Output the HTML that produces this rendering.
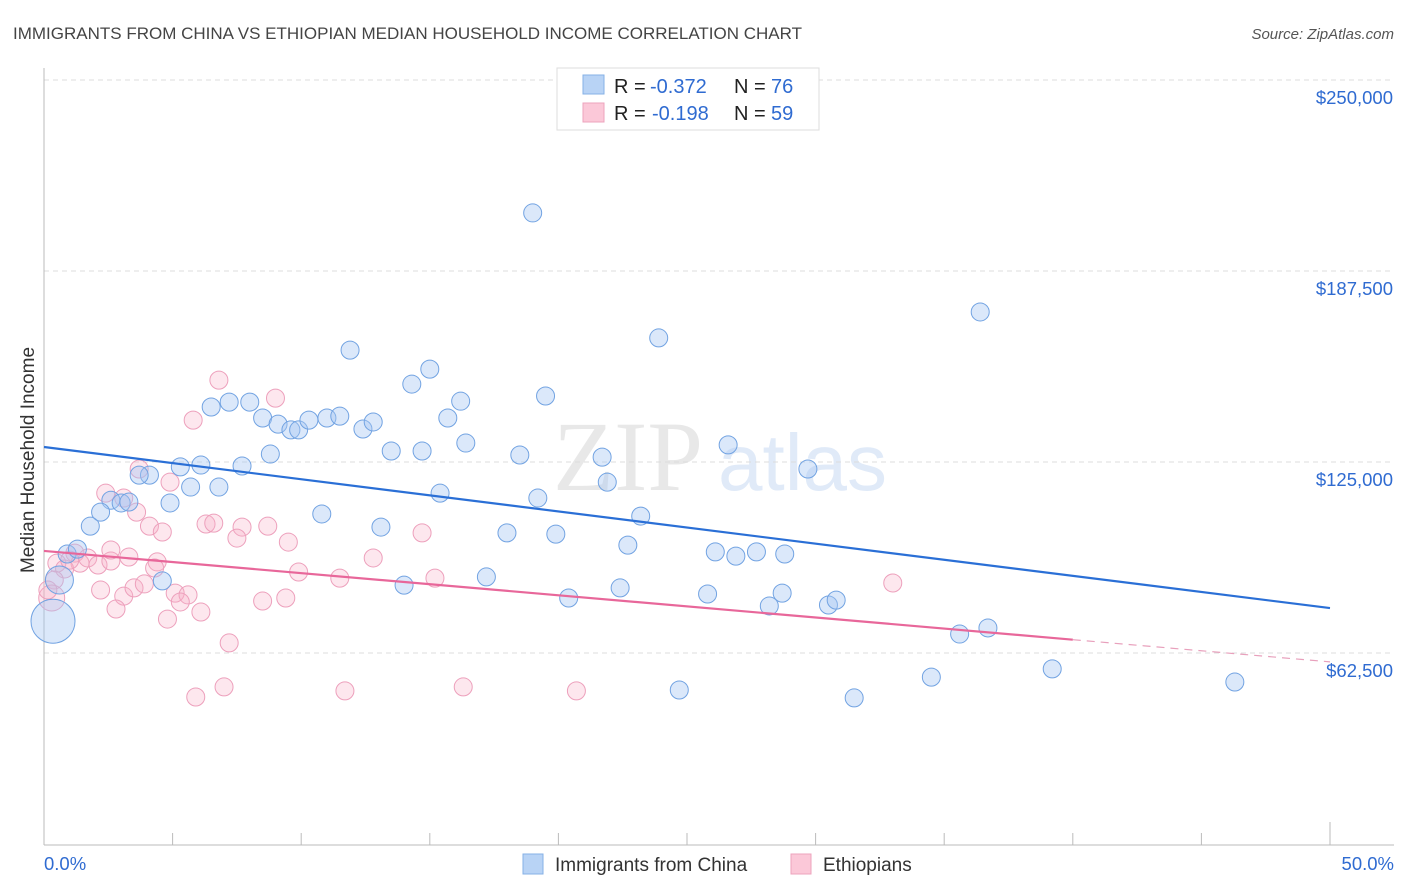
<!DOCTYPE html>
<html><head><meta charset="utf-8"><style>
body{margin:0;background:#fff;font-family:"Liberation Sans",sans-serif;}
#c{position:relative;width:1406px;height:892px;overflow:hidden}
</style></head><body>
<div id="c">
<svg id="svg" width="1406" height="892" xmlns="http://www.w3.org/2000/svg">
<text x="13" y="39" font-size="17" fill="#444" font-family="Liberation Sans">IMMIGRANTS FROM CHINA VS ETHIOPIAN MEDIAN HOUSEHOLD INCOME CORRELATION CHART</text>
<text x="1394" y="39" font-size="15" fill="#555" text-anchor="end" font-style="italic">Source: ZipAtlas.com</text>
<g>
<text x="553" y="490" font-size="100" font-family="Liberation Serif" fill="#e8e8e8">ZIP</text>
<text x="718" y="490" font-size="80" font-family="Liberation Sans" fill="#e0eaf8">atlas</text>
</g>
<g id="grid"></g>
<g id="axes"></g>
<g id="pts"></g>
<g id="trend"></g>
<text x="34" y="460" font-size="19" fill="#333" text-anchor="middle" transform="rotate(-90 34 460)">Median Household Income</text>
<g>
<rect x="557" y="68" width="262" height="62" fill="#fff" stroke="#ddd"/>
<rect x="583" y="75" width="21" height="19" fill="#b8d3f5" stroke="#86b0e6"/>
<rect x="583" y="103" width="21" height="19" fill="#fbc8d8" stroke="#eda3bd"/>
<text y="93" font-size="20" fill="#222"><tspan x="614">R = </tspan><tspan x="650" fill="#2f6bd1">-0.372</tspan><tspan x="734">N = </tspan><tspan x="771" fill="#2f6bd1">76</tspan></text>
<text y="120" font-size="20" fill="#222"><tspan x="614">R = </tspan><tspan x="652" fill="#2f6bd1">-0.198</tspan><tspan x="734">N = </tspan><tspan x="771" fill="#2f6bd1">59</tspan></text>
</g>
<g>
<rect x="523" y="854" width="20" height="20" fill="#b8d3f5" stroke="#86b0e6"/>
<text x="555" y="871" font-size="19" fill="#333">Immigrants from China</text>
<rect x="791" y="854" width="20" height="20" fill="#fbc8d8" stroke="#eda3bd"/>
<text x="823" y="871" font-size="19" fill="#333">Ethiopians</text>
</g>
</svg>
</div>
<script>
const yTicks=[62500,125000,187500,250000];
const yTickLabels=["$62,500","$125,000","$187,500","$250,000"];
const xTickLabels=["0.0%","50.0%"];
const chinaX=[19.0,36.4,11.9,23.9,15.0,14.3,19.5,16.2,6.5,7.2,8.0,8.5,9.1,9.6,9.9,10.3,11.0,11.5,12.4,12.8,15.7,16.4,13.5,14.7,18.5,21.7,26.6,7.7,8.8,5.3,6.1,5.7,6.8,4.1,3.7,29.7,21.9,15.4,19.2,2.6,3.0,3.3,4.9,10.8,23.2,13.1,1.8,2.2,18.0,19.9,22.7,26.1,26.9,27.7,28.8,0.9,1.3,4.6,17.2,14.0,22.4,20.4,25.8,28.7,28.2,30.5,30.8,35.6,36.7,0.6,0.35,39.2,34.5,24.7,31.5,46.3];
const chinaY=[206.5,174.1,161.6,165.6,155.4,150.5,146.6,144.9,143.0,144.6,144.6,139.4,137.4,135.5,135.5,138.7,139.4,140.0,135.8,138.1,139.4,131.2,128.6,128.6,127.3,126.6,130.6,123.7,127.6,123.4,124.0,116.8,116.8,120.7,120.7,122.7,118.4,114.8,113.2,112.5,111.6,111.9,111.6,108.0,107.3,103.7,104.0,108.6,101.8,101.4,97.8,95.6,94.2,95.6,94.9,94.9,96.5,86.1,87.4,84.7,83.8,80.5,81.8,82.1,77.9,78.2,79.8,68.7,70.7,86.4,72.9,57.3,54.6,50.4,47.8,53.0];
const chinaR=[9,9,9,9,9,9,9,9,9,9,9,9,9,9,9,9,9,9,9,9,9,9,9,9,9,9,9,9,9,9,9,9,9,9,9,9,9,9,9,9,9,9,9,9,9,9,9,9,9,9,9,9,9,9,9,9,9,9,9,9,9,9,9,9,9,9,9,9,9,14,22,9,9,9,9,9];
const ethX=[6.8,9.0,5.8,3.7,4.9,2.4,3.1,3.6,6.3,4.1,4.6,7.7,8.7,7.5,9.5,14.7,1.2,1.4,0.5,0.8,1.7,2.1,2.6,3.3,4.4,4.3,9.9,12.8,11.5,15.2,0.4,2.2,3.1,3.5,3.9,5.1,5.6,5.3,6.1,2.8,4.8,8.5,9.4,33.0,7.2,5.9,7.0,11.7,16.3,20.7,0.3,0.15,1.0,6.6,2.6];
const ethY=[151.8,145.9,138.7,122.7,118.4,114.8,113.2,108.6,104.7,104.0,102.1,103.7,104.0,100.1,98.8,101.8,95.2,91.9,91.9,90.0,93.6,91.3,92.6,93.9,92.3,90.3,89.0,93.6,87.0,87.0,86.4,83.1,81.1,83.8,85.1,82.1,81.5,79.2,75.9,76.9,73.6,79.5,80.5,85.4,65.8,48.1,51.4,50.1,51.4,50.1,80.5,83.1,92.9,105.0,96.2];
const chinaTrend=[129.9,77.2];
const ethTrend=[95.9,59.6];
const ethSolidEnd=40;
const NS="http://www.w3.org/2000/svg";
function xs(p){return 44+p*25.72;}
function ys(k){return 844-k*1000*191/62500;}
function mk(t,a,parent){const e=document.createElementNS(NS,t);for(const k in a)e.setAttribute(k,a[k]);parent.appendChild(e);return e;}
const grid=document.getElementById('grid'),axes=document.getElementById('axes'),pts=document.getElementById('pts'),trend=document.getElementById('trend');
yTicks.forEach((v,i)=>{
 const y=844-v*191/62500;
 const l=mk('line',{x1:44,x2:1394,y1:y,y2:y,stroke:'#dcdcdc','stroke-dasharray':'5,4'},grid);
 
 
 const t=mk('text',{x:1393,y:y+24,'font-size':18.5,fill:'#2f6bd1','text-anchor':'end'},axes);
 t.textContent=yTickLabels[i];
 
 
});
const ax=mk('line',{x1:44,x2:1394,y1:845,y2:845,stroke:'#bbb'},axes);


const ay=mk('line',{x1:44,x2:44,y1:68,y2:845,stroke:'#bbb'},axes);


for(let i=0;i<=10;i++){const x=xs(i*5);const tk=mk('line',{x1:x,x2:x,y1:i==10?822:833,y2:845,stroke:'#bbb'},axes);
 
 }
const xl0=mk('text',{x:44,y:870,'font-size':18.5,fill:'#2f6bd1'},axes);xl0.textContent=xTickLabels[0];


const xl1=mk('text',{x:1394,y:870,'font-size':18.5,fill:'#2f6bd1','text-anchor':'end'},axes);xl1.textContent=xTickLabels[1];


ethX.forEach((p,i)=>{const c=mk('circle',{cx:xs(p),cy:ys(ethY[i]),r:(i==50?13:9),fill:'rgba(248,175,200,0.3)',stroke:'#eda0bc','stroke-width':1},pts);
 
 });
chinaX.forEach((p,i)=>{const c=mk('circle',{cx:xs(p),cy:ys(chinaY[i]),r:chinaR[i],fill:'rgba(165,198,242,0.4)',stroke:'#72a3e2','stroke-width':1},pts);
 
 });
const bl=mk('line',{x1:xs(0),y1:ys(chinaTrend[0]),x2:xs(50),y2:ys(chinaTrend[1]),stroke:'#2a6fd6','stroke-width':2.2},trend);


const ym=ethTrend[0]+(ethTrend[1]-ethTrend[0])*ethSolidEnd/50;
const pl=mk('line',{x1:xs(0),y1:ys(ethTrend[0]),x2:xs(ethSolidEnd),y2:ys(ym),stroke:'#e8679a','stroke-width':2.2},trend);


const pd=mk('line',{x1:xs(ethSolidEnd),y1:ys(ym),x2:xs(50),y2:ys(ethTrend[1]),stroke:'#e8a0bc','stroke-width':1.2,'stroke-dasharray':'8,6'},trend);


</script>
</body></html>
